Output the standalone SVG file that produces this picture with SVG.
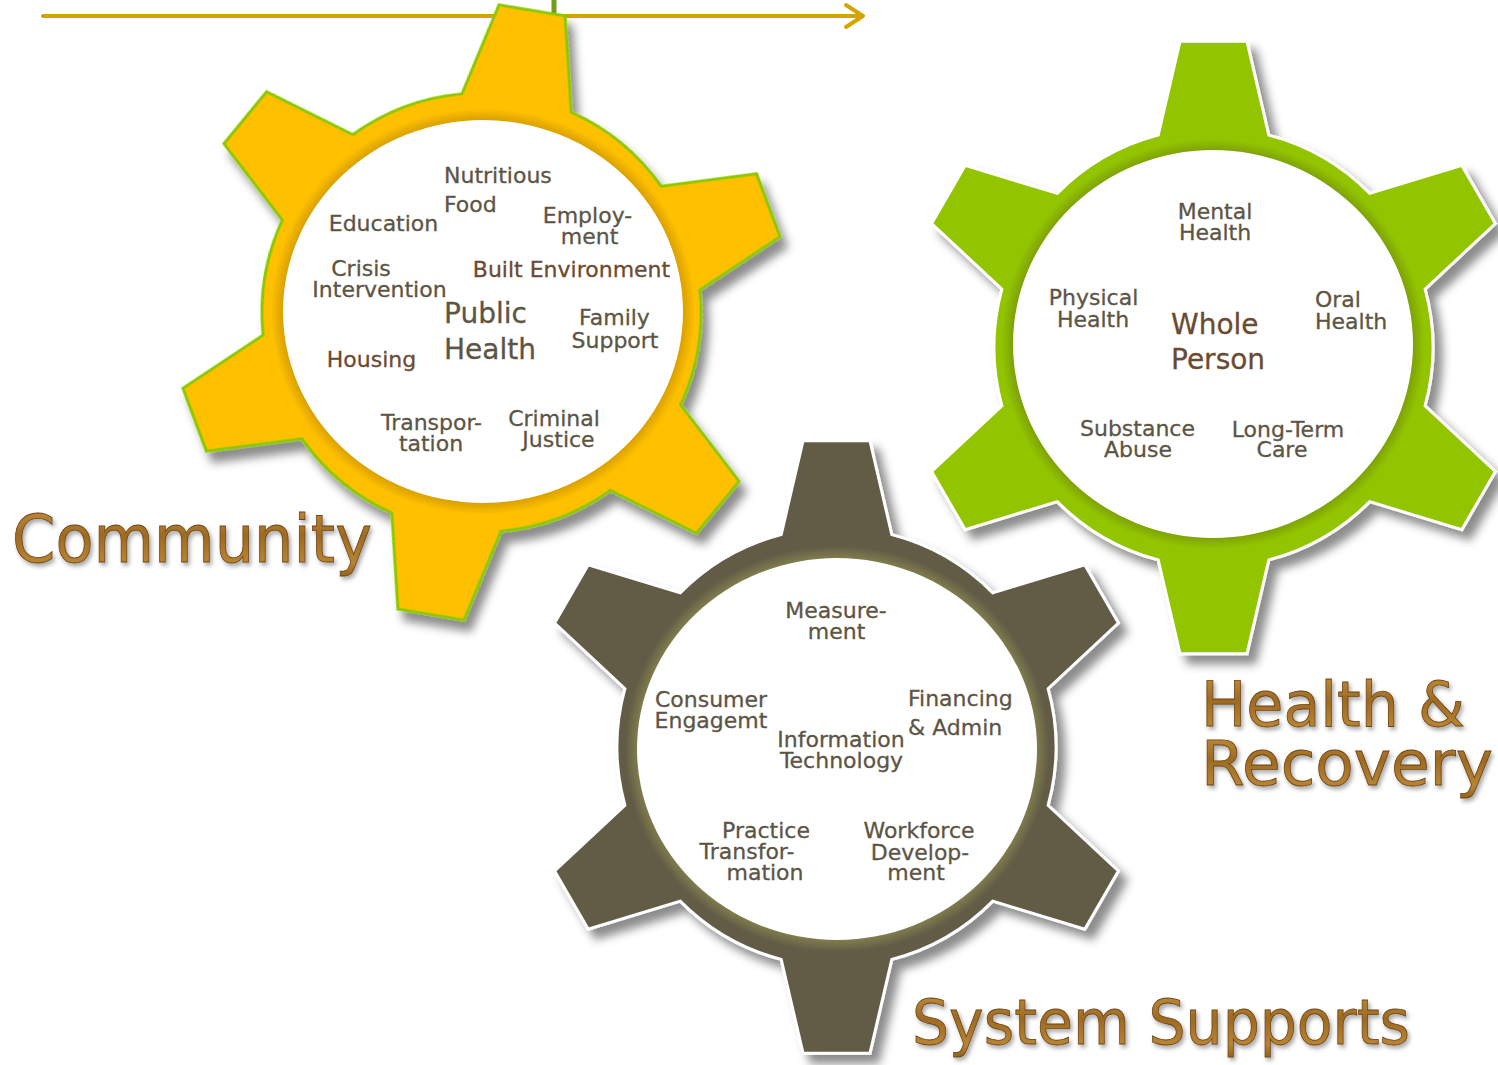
<svg xmlns="http://www.w3.org/2000/svg" xmlns:xlink="http://www.w3.org/1999/xlink" width="1498" height="1065" viewBox="0 0 1498 1065">
  <style>
    .lbl { font-family: "DejaVu Sans", "Liberation Sans", sans-serif; font-size: 22px; fill: #5C5545; stroke: #5C5545; stroke-width: 0.3; }
    .mid { text-anchor: middle; }
    .brn { fill: #6B4A31; stroke: #6B4A31; }
    .big { font-size: 28px; }
    .title { font-family: "DejaVu Sans", "Liberation Sans", sans-serif; fill: url(#bronze); stroke: #6A4516; stroke-width: 0.8; filter: url(#titleShadow); }
    .arrow { fill: none; stroke: #D6A400; stroke-width: 4; stroke-linecap: round; stroke-linejoin: round; }
  </style>
  <defs>
    <!-- six-tooth gear outline centred on the origin -->
    <path id="gear" d="M -55.3,-212.4 L -33.5,-306.2 L 33.5,-306.2 L 55.3,-212.4 A 219.5 219.5 0 0 1 156.3,-154.1 L 248.4,-182.1 L 281.9,-124 L 211.6,-58.3 A 219.5 219.5 0 0 1 211.6,58.3 L 281.9,124 L 248.4,182.1 L 156.3,154.1 A 219.5 219.5 0 0 1 55.3,212.4 L 33.5,306.2 L -33.5,306.2 L -55.3,212.4 A 219.5 219.5 0 0 1 -156.3,154.1 L -248.4,182.1 L -281.9,124 L -211.6,58.3 A 219.5 219.5 0 0 1 -211.6,-58.3 L -281.9,-124 L -248.4,-182.1 L -156.3,-154.1 A 219.5 219.5 0 0 1 -55.3,-212.4 Z"/>
    <filter id="gearShadow" x="-20%" y="-20%" width="140%" height="140%">
      <feDropShadow dx="8" dy="9" stdDeviation="5" flood-color="#000" flood-opacity="0.45"/>
    </filter>
    <filter id="titleShadow" x="-10%" y="-20%" width="120%" height="150%">
      <feDropShadow dx="2" dy="3" stdDeviation="2" flood-color="#000" flood-opacity="0.35"/>
    </filter>
    <linearGradient id="bronze" x1="0" y1="0" x2="0" y2="1">
      <stop offset="0" stop-color="#C99443"/>
      <stop offset="0.45" stop-color="#9E6A22"/>
      <stop offset="0.8" stop-color="#B98433"/>
      <stop offset="1" stop-color="#8C5C1C"/>
    </linearGradient>
    <radialGradient id="rimGold">
      <stop offset="0.9" stop-color="#D29A00" stop-opacity="1"/>
      <stop offset="0.945" stop-color="#D29A00" stop-opacity="0.8"/>
      <stop offset="1" stop-color="#D29A00" stop-opacity="0"/>
    </radialGradient>
    <radialGradient id="rimGreen">
      <stop offset="0.9" stop-color="#789A08" stop-opacity="1"/>
      <stop offset="0.945" stop-color="#789A08" stop-opacity="0.8"/>
      <stop offset="1" stop-color="#789A08" stop-opacity="0"/>
    </radialGradient>
    <radialGradient id="rimOlive">
      <stop offset="0.9" stop-color="#85824E" stop-opacity="1"/>
      <stop offset="0.945" stop-color="#85824E" stop-opacity="0.8"/>
      <stop offset="1" stop-color="#85824E" stop-opacity="0"/>
    </radialGradient>
  </defs>

  <rect width="1498" height="1065" fill="#FFFFFF"/>

  <!-- timeline arrow along the top edge -->
  <g id="connectors">
    <line x1="554" y1="0" x2="554" y2="16" stroke="#6E9E1C" stroke-width="5"/>
    <line class="arrow" x1="43" y1="16" x2="862" y2="16"/>
    <polyline class="arrow" points="846,5 863,16 846,27"/>
  </g>

  <!-- Community gear -->
  <g id="gear-community">
    <use xlink:href="#gear" transform="translate(481.5 312.5) rotate(9.5)" fill="#FFC000" stroke="#8CC800" stroke-width="3" filter="url(#gearShadow)"/>
    <ellipse cx="483" cy="311.5" rx="212" ry="203" fill="url(#rimGold)"/>
    <ellipse cx="483" cy="311.5" rx="200" ry="191.5" fill="#FFFFFF"/>
    <text class="lbl" x="444" y="183">Nutritious</text>
    <text class="lbl" x="444" y="212">Food</text>
    <text class="lbl mid" x="383.5" y="231">Education</text>
    <text class="lbl mid" y="223"><tspan x="587.5">Employ-</tspan><tspan x="589.5" dy="21">ment</tspan></text>
    <text class="lbl mid" y="276"><tspan x="361">Crisis</tspan><tspan x="379.5" dy="21">Intervention</tspan></text>
    <text class="lbl mid brn" x="571.5" y="277">Built Environment</text>
    <text class="lbl big" y="323"><tspan x="444">Public</tspan><tspan x="444" dy="36">Health</tspan></text>
    <text class="lbl mid" y="325"><tspan x="614.5">Family</tspan><tspan x="615" dy="23">Support</tspan></text>
    <text class="lbl mid brn" x="371.5" y="367">Housing</text>
    <text class="lbl mid" y="430"><tspan x="431.5">Transpor-</tspan><tspan x="431" dy="21">tation</tspan></text>
    <text class="lbl mid" y="426"><tspan x="554">Criminal</tspan><tspan x="558.5" dy="21">Justice</tspan></text>
  </g>

  <!-- Health & Recovery gear -->
  <g id="gear-health">
    <use xlink:href="#gear" transform="translate(1213.5 347.5)" fill="#93C400" stroke="#FFFFFF" stroke-width="3" filter="url(#gearShadow)"/>
    <ellipse cx="1213" cy="344" rx="212" ry="205" fill="url(#rimGreen)"/>
    <ellipse cx="1213" cy="344" rx="200" ry="194" fill="#FFFFFF"/>
    <text class="lbl mid" y="219"><tspan x="1215">Mental</tspan><tspan x="1215" dy="21">Health</tspan></text>
    <text class="lbl mid" y="305"><tspan x="1093.5">Physical</tspan><tspan x="1093" dy="22">Health</tspan></text>
    <text class="lbl big brn" y="334"><tspan x="1171">Whole</tspan><tspan x="1171" dy="35">Person</tspan></text>
    <text class="lbl" y="307"><tspan x="1315">Oral</tspan><tspan x="1315" dy="22">Health</tspan></text>
    <text class="lbl mid" y="436"><tspan x="1137.5">Substance</tspan><tspan x="1138" dy="21">Abuse</tspan></text>
    <text class="lbl mid" y="437"><tspan x="1288">Long-Term</tspan><tspan x="1282" dy="20">Care</tspan></text>
  </g>

  <!-- System Supports gear -->
  <g id="gear-system">
    <use xlink:href="#gear" transform="translate(836.5 747)" fill="#625B47" stroke="#FFFFFF" stroke-width="3" filter="url(#gearShadow)"/>
    <ellipse cx="837" cy="749" rx="212" ry="203" fill="url(#rimOlive)"/>
    <ellipse cx="837" cy="749" rx="200" ry="191" fill="#FFFFFF"/>
    <text class="lbl mid" y="618"><tspan x="836">Measure-</tspan><tspan x="836.5" dy="21">ment</tspan></text>
    <text class="lbl mid" y="707"><tspan x="711">Consumer</tspan><tspan x="711" dy="21">Engagemt</tspan></text>
    <text class="lbl" y="706"><tspan x="908">Financing</tspan><tspan x="908" dy="29">&amp; Admin</tspan></text>
    <text class="lbl mid" y="747"><tspan x="841">Information</tspan><tspan x="841.5" dy="21">Technology</tspan></text>
    <text class="lbl mid" y="838"><tspan x="766">Practice</tspan><tspan x="747" dy="21">Transfor-</tspan><tspan x="765" dy="21">mation</tspan></text>
    <text class="lbl mid" y="838"><tspan x="919">Workforce</tspan><tspan x="920" dy="22">Develop-</tspan><tspan x="916" dy="20">ment</tspan></text>
  </g>

  <!-- section titles -->
  <g id="titles">
    <text class="title" x="12" y="562" font-size="66" textLength="360" lengthAdjust="spacingAndGlyphs">Community</text>
    <text class="title" x="1201" y="726" font-size="62" textLength="264" lengthAdjust="spacingAndGlyphs">Health &amp;</text>
    <text class="title" x="1201" y="785" font-size="62" textLength="292" lengthAdjust="spacingAndGlyphs">Recovery</text>
    <text class="title" x="912" y="1044" font-size="62" textLength="498" lengthAdjust="spacingAndGlyphs">System Supports</text>
  </g>
</svg>
